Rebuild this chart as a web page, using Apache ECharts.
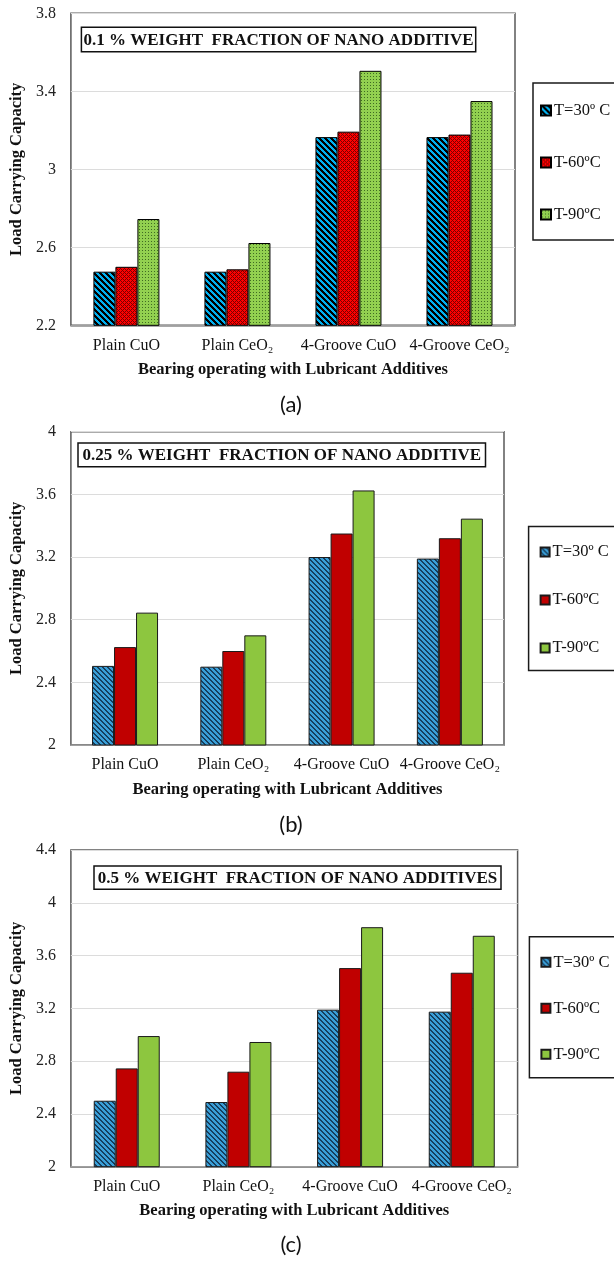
<!DOCTYPE html>
<html>
<head>
<meta charset="utf-8">
<script src="https://cdn.jsdelivr.net/npm/echarts@6/dist/echarts.min.js"></script>
<style>
  html, body { margin: 0; padding: 0; background: #fff; }
  .panel { position: absolute; left: 0; width: 614px; }
</style>
</head>
<body>
<div id="ca" class="panel" style="top:0;height:420px"></div>
<div id="cb" class="panel" style="top:420px;height:420px"></div>
<div id="cc" class="panel" style="top:840px;height:421px"></div>
<script>
// ---------- data ----------
const categories = ['Plain CuO', 'Plain CeO\u2082', '4-Groove CuO', '4-Groove CeO\u2082'];
const seriesNames = ['T=30\u00ba C', 'T-60\u00baC', 'T-90\u00baC'];

const a30 = [2.475, 2.475, 3.165, 3.165];
const a60 = [2.500, 2.487, 3.193, 3.178];
const a90 = [2.745, 2.622, 3.505, 3.350];

const b30 = [2.505, 2.500, 3.200, 3.190];
const b60 = [2.625, 2.600, 3.350, 3.320];
const b90 = [2.845, 2.700, 3.625, 3.445];

const c30 = [2.500, 2.490, 3.190, 3.175];
const c60 = [2.745, 2.720, 3.505, 3.470];
const c90 = [2.990, 2.945, 3.815, 3.750];

const yTicksA = [2.2, 2.6, 3, 3.4, 3.8];
const yTicksB = [2, 2.4, 2.8, 3.2, 3.6, 4];
const yTicksC = [2, 2.4, 2.8, 3.2, 3.6, 4, 4.4];

const titleA = '0.1 % WEIGHT  FRACTION OF NANO ADDITIVE';
const titleB = '0.25 % WEIGHT  FRACTION OF NANO ADDITIVE';
const titleC = '0.5 % WEIGHT  FRACTION OF NANO ADDITIVES';
const panelLabels = ['(a)', '(b)', '(c)'];
const yAxisTitle = 'Load Carrying Capacity';
const xAxisTitle = 'Bearing operating with Lubricant Additives';

// ---------- patterns ----------
function makePattern(size, fn) {
  const cv = document.createElement('canvas');
  cv.width = size; cv.height = size;
  const ctx = cv.getContext('2d');
  for (let y = 0; y < size; y++) {
    for (let x = 0; x < size; x++) {
      ctx.fillStyle = fn(x, y);
      ctx.fillRect(x, y, 1, 1);
    }
  }
  return { image: cv, repeat: 'repeat' };
}
const mod = (a, n) => ((a % n) + n) % n;
// panel (a)
const patBlueA = makePattern(6, (x, y) => mod(x - y, 6) < 3 ? '#000000' : '#00b0f0');
const patRedA = makePattern(4, (x, y) => (mod(x + y, 4) === 0 || mod(x - y, 4) === 0) ? '#7a0000' : '#ff0000');
const patGreenA = makePattern(3, (x, y) => (x === 1 && y === 1) ? '#3f6b22' : '#92d050');
// panels (b),(c)
const patBlueB = makePattern(5, (x, y) => mod(x - y, 5) < 2 ? '#163f5e' : '#3a9fd8');

const FONT = '"Liberation Serif", "Times New Roman", serif';

function buildOption(cfg) {
  const ticks = cfg.ticks;
  const styles = cfg.styles;
  const vals = [cfg.d30, cfg.d60, cfg.d90];
  return {
    animation: false,
    backgroundColor: '#fff',
    grid: {
      left: cfg.grid[0], right: cfg.grid[1], top: cfg.grid[2], bottom: cfg.grid[3],
      show: true, borderColor: '#595959', borderWidth: 1.5, containLabel: false
    },
    legend: {
      orient: 'vertical',
      left: cfg.legend.left,
      top: cfg.legend.top,
      padding: cfg.legend.padding,
      itemGap: cfg.legend.gap,
      itemWidth: cfg.legend.icon,
      itemHeight: cfg.legend.icon,
      borderColor: '#1a1a1a',
      borderWidth: 1.5,
      backgroundColor: '#fff',
      icon: 'rect',
      selectedMode: false,
      textStyle: { fontFamily: FONT, fontSize: 16.5, color: '#111', lineHeight: 16, padding: [0, 0, 0, -2] },
      data: seriesNames
    },
    xAxis: {
      type: 'category',
      data: categories,
      axisTick: { show: false },
      axisLine: { show: true, lineStyle: { color: '#8c8c8c', width: 1.5 } },
      axisLabel: { fontFamily: FONT, fontSize: 16, color: '#111', margin: 12, interval: 0 },
      name: xAxisTitle,
      nameLocation: 'middle',
      nameGap: 36,
      nameTextStyle: { fontFamily: FONT, fontSize: 16.5, fontWeight: 'bold', color: '#111' }
    },
    yAxis: {
      type: 'value',
      min: ticks[0],
      max: ticks[ticks.length - 1],
      interval: Math.round((ticks[1] - ticks[0]) * 1000) / 1000,
      axisLine: { show: false },
      axisTick: { show: false },
      splitLine: { show: true, lineStyle: { color: '#dcdcdc', width: 1 } },
      axisLabel: { fontFamily: FONT, fontSize: 16, color: '#222', margin: 15 },
      name: yAxisTitle,
      nameLocation: 'middle',
      nameGap: 40,
      nameRotate: 90,
      nameTextStyle: { fontFamily: FONT, fontSize: 16.5, fontWeight: 'bold', color: '#111' }
    },
    graphic: [
      {
        type: 'rect',
        shape: { x: cfg.box[0], y: cfg.box[1], width: cfg.box[2], height: cfg.box[3] },
        style: { fill: '#fff', stroke: '#111', lineWidth: 1.5 },
        z: 10
      },
      {
        type: 'text',
        x: cfg.box[0] + cfg.box[2] / 2,
        y: cfg.box[1] + cfg.box[3] / 2 + 1,
        style: {
          text: cfg.title, font: 'bold 17px ' + FONT, fill: '#111',
          textAlign: 'center', textVerticalAlign: 'middle'
        },
        z: 11
      },
      {
        type: 'text',
        x: cfg.label[0], y: cfg.label[1],
        style: {
          text: cfg.labelText, font: '22px Lato, "Open Sans", sans-serif', fill: '#111',
          textAlign: 'center', textVerticalAlign: 'middle'
        }
      }
    ],
    series: seriesNames.map((n, i) => ({
      name: n,
      type: 'bar',
      data: vals[i],
      barWidth: 22,
      barGap: '0%',
      itemStyle: { color: styles[i], borderColor: cfg.border, borderWidth: 1 }
    }))
  };
}

const ca = echarts.init(document.getElementById('ca'), null, { renderer: 'canvas' });
ca.setOption(buildOption({
  d30: a30, d60: a60, d90: a90, ticks: yTicksA,
  grid: [64, 99, 13.3, 94.7],
  legend: { left: 533, top: 83, padding: [19, 30, 17, 7], gap: 35, icon: 10 },
  box: [81.4, 27.3, 394.3, 24.4],
  title: titleA,
  label: [291, 405], labelText: panelLabels[0],
  styles: [patBlueA, patRedA, patGreenA],
  border: '#000'
}));

const cb = echarts.init(document.getElementById('cb'), null, { renderer: 'canvas' });
cb.setOption(buildOption({
  d30: b30, d60: b60, d90: b90, ticks: yTicksB,
  grid: [62.6, 110, 11.7, 95],
  legend: { left: 528.6, top: 106.5, padding: [17, 30, 14, 11], gap: 31, icon: 9 },
  box: [78, 23, 407.5, 23.7],
  title: titleB,
  label: [291, 405], labelText: panelLabels[1],
  styles: [patBlueB, '#c00000', '#8dc63f'],
  border: '#1a1a1a'
}));

const cc = echarts.init(document.getElementById('cc'), null, { renderer: 'canvas' });
cc.setOption(buildOption({
  d30: c30, d60: c60, d90: c90, ticks: yTicksC,
  grid: [62.6, 96.4, 10, 94.3],
  legend: { left: 529.4, top: 96.7, padding: [17, 30, 15, 11], gap: 29, icon: 9 },
  box: [94, 26, 407, 23.3],
  title: titleC,
  label: [291, 405], labelText: panelLabels[2],
  styles: [patBlueB, '#c00000', '#8dc63f'],
  border: '#1a1a1a'
}));
</script>
</body>
</html>
